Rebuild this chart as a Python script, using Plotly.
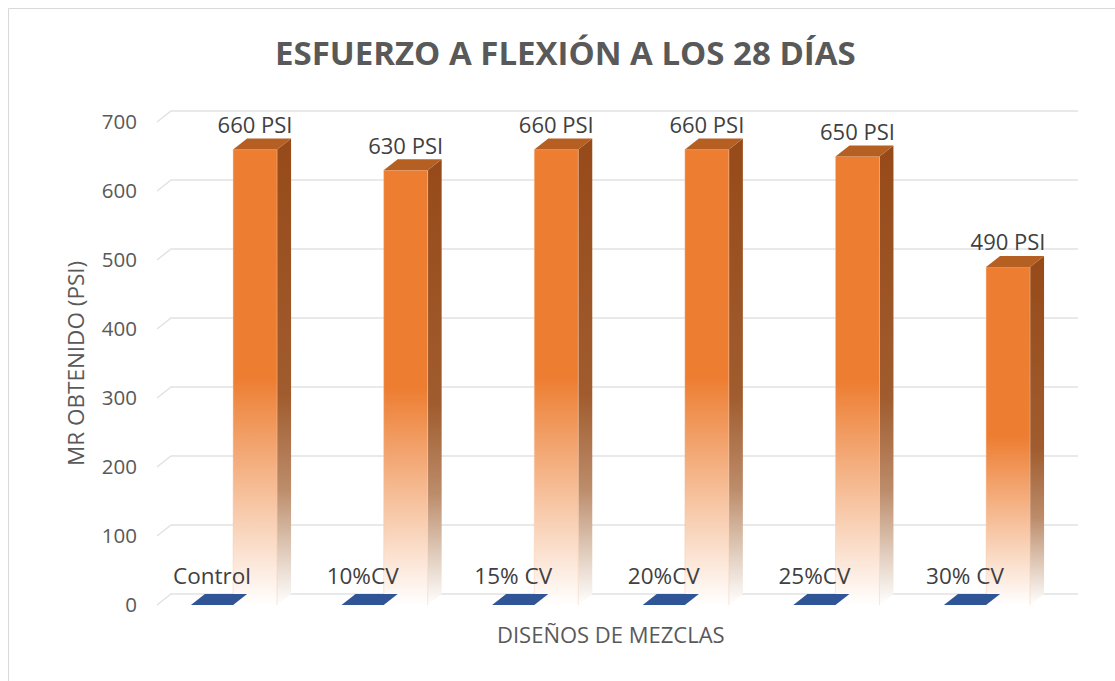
import plotly.graph_objects as go

# Values
categories = ["Control", "10%CV", "15% CV", "20%CV", "25%CV", "30% CV"]
mr_psi = [660, 630, 660, 660, 650, 490]
floor_series = [0, 0, 0, 0, 0, 0]
y_ticks = [0, 100, 200, 300, 400, 500, 600, 700]

title_text = "ESFUERZO A FLEXIÓN A LOS 28 DÍAS"
y_title = "MR OBTENIDO (PSI)"
x_title = "DISEÑOS DE MEZCLAS"

# Pseudo-3D geometry (in axis units)
W, H = 1115, 681
L, R, T, B = 150, 1090, 100, 620
px_per_cat = 150.6
px_per_unit = 0.69
x0_px = 212          # pixel of category 0 centre
y0_px = 605          # pixel of value 0 on the front plane
xa = -(x0_px - L) / px_per_cat
xb = xa + (R - L) / px_per_cat
ya = (y0_px - B) / px_per_unit
yb = (y0_px - T) / px_per_unit

DX = 14 / px_per_cat       # depth offset to the right
DY = 11 / px_per_unit      # depth offset upward
blue_l, blue_r = -0.14, 0.14
bar_l, bar_r = 0.14, 0.432
grid_left = (157 - x0_px) / px_per_cat
grid_right = (1078 - x0_px) / px_per_cat

ORANGE = "#ED7D31"
SIDE = "#974A19"
TOP = "#B55F22"
BLUE = "#2F5597"
GRID = "#E2E2E2"
FONT = "Open Sans"

fig = go.Figure()

# Back-wall gridlines with their slanted left edge
for g in y_ticks:
    fig.add_trace(go.Scatter(
        x=[grid_left, grid_left + DX, grid_right],
        y=[g, g + DY, g + DY],
        mode="lines", line=dict(color=GRID, width=1.5),
        hoverinfo="skip", showlegend=False))

front_scale = [[0.0, "rgb(255,255,255)"], [0.5, ORANGE], [1.0, ORANGE]]
side_scale = [[0.0, "rgb(255,255,255)"], [0.1, "rgb(228,210,196)"],
              [0.25, "rgb(188,140,106)"], [0.45, "rgb(160,92,46)"], [1.0, SIDE]]

for i, v in enumerate(mr_psi):
    # side face
    fig.add_trace(go.Scatter(
        x=[i + bar_r, i + bar_r + DX, i + bar_r + DX, i + bar_r, i + bar_r],
        y=[0, DY, v + DY, v, 0],
        mode="lines", line=dict(width=0), fill="toself",
        fillgradient=dict(type="vertical", colorscale=side_scale),
        hoverinfo="skip", showlegend=False))
    # front face
    fig.add_trace(go.Scatter(
        x=[i + bar_l, i + bar_r, i + bar_r, i + bar_l, i + bar_l],
        y=[0, 0, v, v, 0],
        mode="lines", line=dict(width=0), fill="toself",
        fillgradient=dict(type="vertical", colorscale=front_scale),
        hoverinfo="skip", showlegend=False))
    # light edge on the front face
    fig.add_trace(go.Scatter(
        x=[i + bar_l, i + bar_l, i + bar_r, i + bar_r],
        y=[0, v, v, 0],
        mode="lines", line=dict(width=0.8, color="rgba(248,200,165,0.55)"),
        hoverinfo="skip", showlegend=False))
    # top face
    fig.add_trace(go.Scatter(
        x=[i + bar_l, i + bar_r, i + bar_r + DX, i + bar_l + DX, i + bar_l],
        y=[v, v, v + DY, v + DY, v],
        mode="lines", line=dict(width=0), fill="toself", fillcolor=TOP,
        hoverinfo="skip", showlegend=False))

# Flat floor series drawn as tiles
for i, v in enumerate(floor_series):
    fig.add_trace(go.Scatter(
        x=[i + blue_l, i + blue_r, i + blue_r + DX, i + blue_l + DX, i + blue_l],
        y=[v, v, v + DY, v + DY, v],
        mode="lines", line=dict(width=0), fill="toself", fillcolor=BLUE,
        hoverinfo="skip", showlegend=False))

# Value labels
fig.add_trace(go.Scatter(
    x=[i + (bar_l + bar_r) / 2 for i in range(len(mr_psi))],
    y=[v + DY + 11 / px_per_unit for v in mr_psi],
    mode="text", text=[f"{v} PSI" for v in mr_psi],
    textposition="middle center",
    textfont=dict(family=FONT, size=22, color="#404040"),
    hoverinfo="skip", showlegend=False))

# Category labels
fig.add_trace(go.Scatter(
    x=list(range(len(categories))),
    y=[(y0_px - 578) / px_per_unit] * len(categories),
    mode="text", text=categories, textposition="middle center",
    textfont=dict(family=FONT, size=22.5, color="#404040"),
    hoverinfo="skip", showlegend=False))

def px_to_paper_x(px):
    return (px - L) / (R - L)

def px_to_paper_y(py):
    return (B - py) / (B - T)

fig.update_layout(
    width=W, height=H,
    margin=dict(l=L, r=W - R, t=T, b=H - B),
    paper_bgcolor="white", plot_bgcolor="white",
    xaxis=dict(range=[xa, xb], showgrid=False, zeroline=False,
               showticklabels=False, showline=False, fixedrange=True),
    yaxis=dict(range=[ya, yb], showgrid=False, zeroline=False,
               tickmode="array", tickvals=y_ticks,
               ticks="outside", ticklen=8, tickcolor="rgba(0,0,0,0)",
               tickfont=dict(family=FONT, size=20.5, color="#595959"),
               showline=False, fixedrange=True),
    annotations=[
        dict(text=f"<b>{title_text}</b>", xref="paper", yref="paper",
             x=px_to_paper_x(565), y=px_to_paper_y(52),
             xanchor="center", yanchor="middle", showarrow=False,
             font=dict(family=FONT, size=33, color="#595959")),
        dict(text=y_title, xref="paper", yref="paper",
             x=px_to_paper_x(75), y=px_to_paper_y(364), textangle=-90,
             xanchor="center", yanchor="middle", showarrow=False,
             font=dict(family=FONT, size=22.5, color="#595959")),
        dict(text=x_title, xref="paper", yref="paper",
             x=px_to_paper_x(611), y=px_to_paper_y(634),
             xanchor="center", yanchor="middle", showarrow=False,
             font=dict(family=FONT, size=22, color="#595959")),
    ],
    shapes=[dict(type="rect", xref="paper", yref="paper",
                 x0=px_to_paper_x(8.5), x1=px_to_paper_x(1125),
                 y0=px_to_paper_y(690), y1=px_to_paper_y(8.5),
                 line=dict(color="#D9D9D9", width=1), layer="below")],
)

fig.write_html("out.html")
